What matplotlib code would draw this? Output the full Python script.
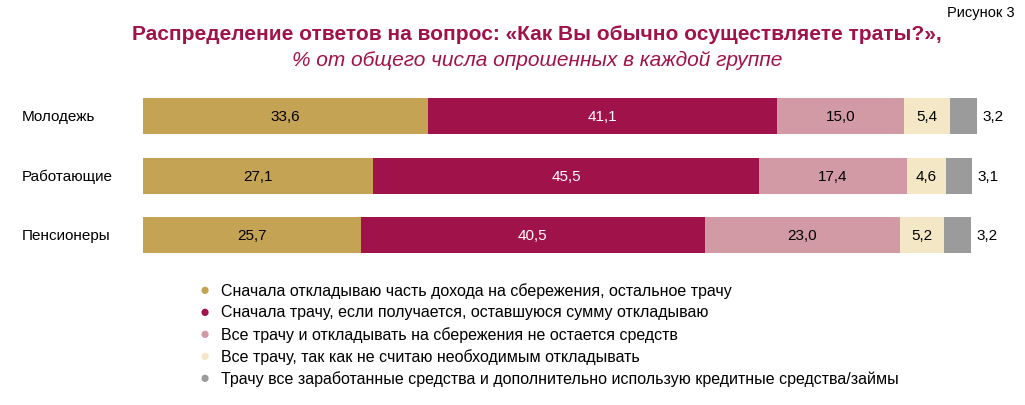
import matplotlib.pyplot as plt
import numpy as np

plt.rcParams['font.family'] = 'Liberation Sans'

groups = ['Молодежь', 'Работающие', 'Пенсионеры']
answers = [
    'Сначала откладываю часть дохода на сбережения, остальное трачу',
    'Сначала трачу, если получается, оставшуюся сумму откладываю',
    'Все трачу и откладывать на сбережения не остается средств',
    'Все трачу, так как не считаю необходимым откладывать',
    'Трачу все заработанные средства и дополнительно использую кредитные средства/займы',
]
values = np.array([
    [33.6, 41.1, 15.0, 5.4, 3.2],
    [27.1, 45.5, 17.4, 4.6, 3.1],
    [25.7, 40.5, 23.0, 5.2, 3.2],
])
colors = ['#C4A454', '#A0124A', '#D29AA5', '#F3E7C6', '#9B9B9B']
text_colors = ['black', 'white', 'black', 'black', 'black']

fig = plt.figure(figsize=(10.25, 4.06), dpi=100)
ax = fig.add_axes([0.1395, 0.346, 0.8137, 0.438])

y = np.arange(len(groups))
left = np.zeros(len(groups))
for j in range(values.shape[1]):
    ax.barh(y, values[:, j], left=left, height=0.61, color=colors[j], label=answers[j])
    for i in range(len(groups)):
        v = values[i, j]
        lab = f'{v:.1f}'.replace('.', ',')
        if j == values.shape[1] - 1:
            ax.text(left[i] + v + 0.6, i, lab, ha='left', va='center', fontsize=11)
        else:
            ax.text(left[i] + v / 2, i, lab, ha='center', va='center', fontsize=11,
                    color=text_colors[j])
    left += values[:, j]

ax.set_xlim(0, 98.3)
ax.set_ylim(2.5, -0.5)
ax.set_yticks([])
ax.set_xticks([])
for s in ax.spines.values():
    s.set_visible(False)
for i, g in enumerate(groups):
    ax.text(22 / 1025, i, g, transform=ax.get_yaxis_transform(), fontsize=11,
            ha='left', va='center')
# place group labels in figure x coords
for t in ax.texts[-3:]:
    t.set_transform(fig.transFigure + 0 * ax.transData if False else
                    __import__('matplotlib').transforms.blended_transform_factory(fig.transFigure, ax.transData))

fig.text(0.524, 0.915, 'Распределение ответов на вопрос: «Как Вы обычно осуществляете траты?»,',
         ha='center', va='center', fontsize=15, fontweight='bold', color='#A0124A')
fig.text(0.524, 0.852, '% от общего числа опрошенных в каждой группе',
         ha='center', va='center', fontsize=15, style='italic', color='#A0124A')
fig.text(0.99, 0.985, 'Рисунок 3', ha='right', va='top', fontsize=10.5)

for k, a in enumerate(answers):
    yy = 1 - (291 + 22 * k) / 406
    fig.text(0.2, yy, '●', ha='center', va='center', fontsize=12, color=colors[k])
    fig.text(0.216, yy, a, ha='left', va='center', fontsize=11.5)

fig.savefig('out.png', dpi=100)
